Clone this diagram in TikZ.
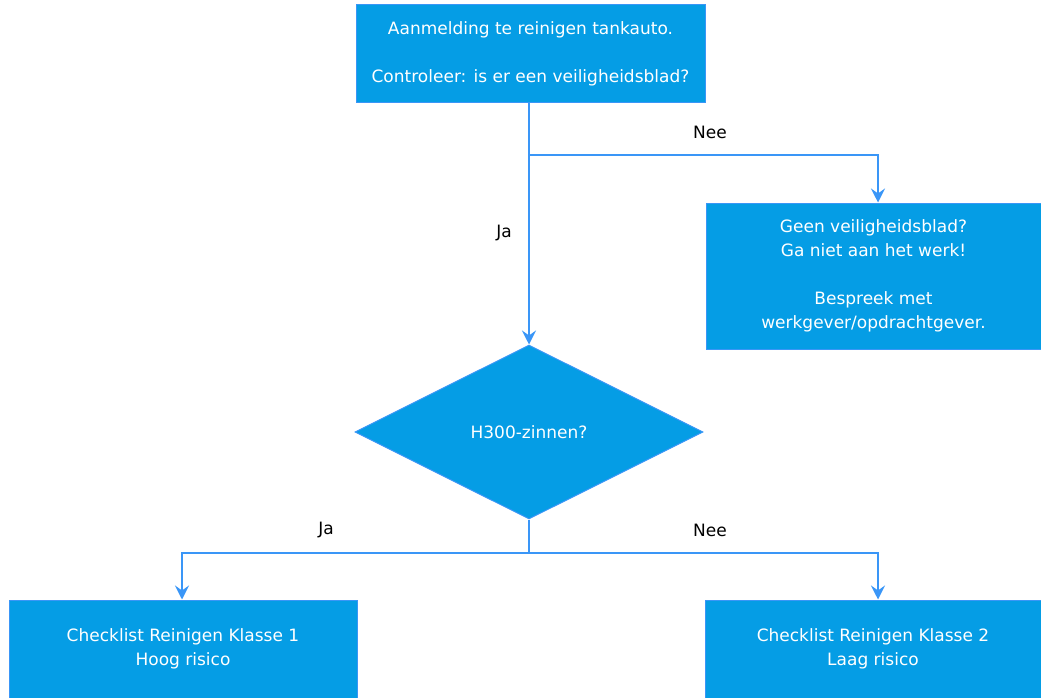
\documentclass[tikz,border=0pt]{standalone}
\usepackage{fontspec}
\setmainfont{DejaVu Sans}
\usetikzlibrary{shapes.geometric,arrows.meta}
\definecolor{boxblue}{HTML}{059DE5}
\definecolor{lineblue}{HTML}{3A96F7}

\begin{document}
\begin{tikzpicture}[x=1pt,y=-1pt,
  box/.style={rectangle,fill=boxblue,draw=lineblue,line width=1pt,text=white,align=center,inner sep=0pt,font=\fontsize{17}{24}\selectfont},
  line/.style={draw=lineblue,line width=2.5pt},
  arr/.style={line,-{Stealth[length=14pt,width=14pt,inset=5pt]}},
  lbl/.style={font=\fontsize{17}{24}\selectfont}]
\useasboundingbox (0,0) rectangle (1041,698);
\node[box,minimum width=349pt,minimum height=98pt] (start) at (530.5,54) {Aanmelding te reinigen tankauto.\\[24pt]Controleer: is er een veiligheidsblad?};
\node[box,minimum width=335pt,minimum height=146pt] (nogo) at (873.5,276) {Geen veiligheidsblad?\\Ga niet aan het werk!\\[24pt]Bespreek met\\werkgever/opdrachtgever.};
\node[box,shape=diamond,aspect=2,minimum width=348pt,minimum height=174pt] (dec) at (529,432) {H300-zinnen?};
\node[box,minimum width=348pt,minimum height=98pt] (klasse1) at (183,649) {Checklist Reinigen Klasse 1\\Hoog risico};
\node[box,minimum width=336pt,minimum height=98pt] (klasse2) at (873,649) {Checklist Reinigen Klasse 2\\Laag risico};

% ja / nee na aanmelding
\coordinate (split) at (529,155);
\draw[arr] (dec.north |- start.south) -- (dec.north);
\draw[arr] (split) -| ([xshift=4.5pt]nogo.north);
\node[lbl] (nee1) at (710,132) {Nee};
\node[lbl] (ja1) at (504,233) {Ja};

% ja / nee na H300
\coordinate (split2) at (529,553);
\draw[line] (dec.south) -- (split2);
\draw[arr] (split2) -| ([xshift=-1pt]klasse1.north);
\draw[arr] (split2) -| ([xshift=5pt]klasse2.north);
\node[lbl] (ja2) at (326,530) {Ja};
\node[lbl] (nee2) at (710,530) {Nee};
\end{tikzpicture}
\end{document}
